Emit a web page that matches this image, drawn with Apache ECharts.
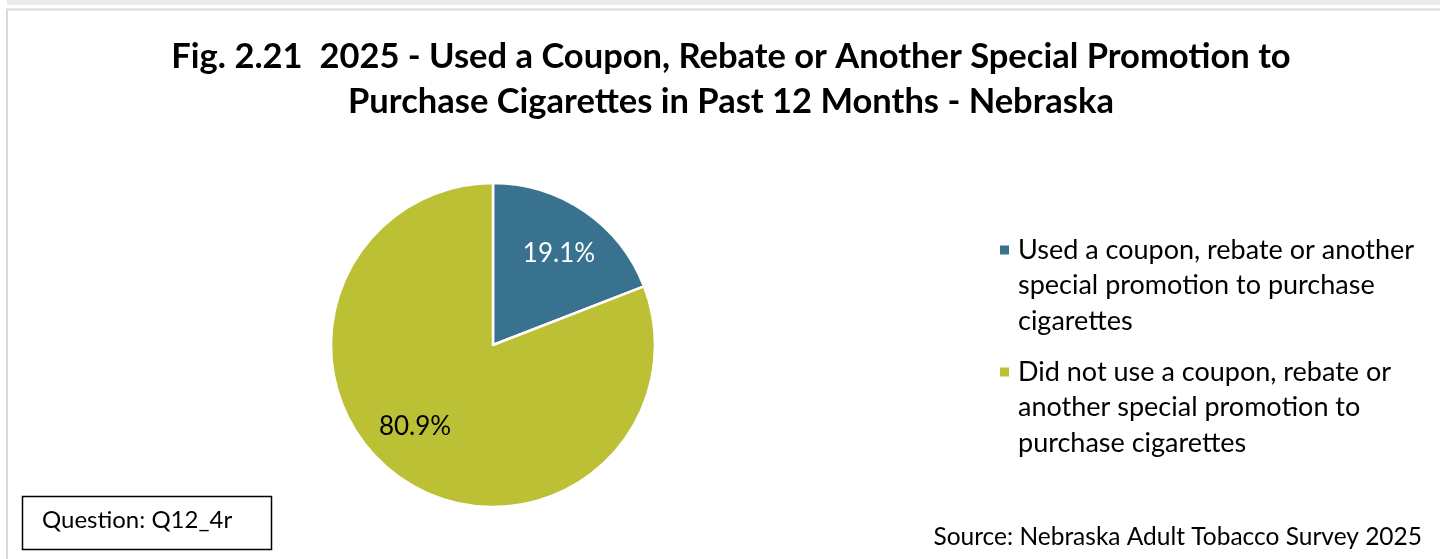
<!DOCTYPE html>
<html>
<head>
<meta charset="utf-8">
<title>Fig. 2.21</title>
<script src="https://cdn.jsdelivr.net/npm/echarts@6/dist/echarts.min.js"></script>
<style>
  html, body { margin: 0; padding: 0; background: #fff; }
  #main { width: 1440px; height: 559px; }
</style>
</head>
<body>
<div id="main"></div>
<script>
// data
const categories = [
  'Used a coupon, rebate or another special promotion to purchase cigarettes',
  'Did not use a coupon, rebate or another special promotion to purchase cigarettes'
];
const values = [19.1, 80.9];
const colors = ['#38728f', '#bcc034'];
const legendLines = [
  ['Used a coupon, rebate or another', 'special promotion to purchase', 'cigarettes'],
  ['Did not use a coupon, rebate or', 'another special promotion to', 'purchase cigarettes']
];

const FONT = 'Lato';
const LEG_LH = 35.5;
const chart = echarts.init(document.getElementById('main'));

const pieData = categories.map(function (name, i) {
  return { name: name, value: values[i], itemStyle: { color: colors[i] } };
});

// label positions (Excel puts them at ~0.7 of the radius)
const labelData = categories.map(function (name, i) {
  return {
    name: name,
    value: values[i],
    label: {
      color: i === 0 ? '#ffffff' : '#000000',
      offset: i === 1 ? [-13, -13] : [1, 4]
    }
  };
});

// icon sits on the middle of the text block, so pad two blank lines on top
// to bring it level with the first line
function legendFor(i, iconMidY) {
  return {
    data: [categories[i]],
    left: 998,
    top: iconMidY - 2.5 * LEG_LH,
    orient: 'vertical',
    icon: 'rect',
    itemWidth: 11,
    itemHeight: 11,
    itemGap: 0,
    padding: 0,
    selectedMode: false,
    formatter: function () { return '\n\n' + legendLines[i].join('\n'); },
    textStyle: {
      fontFamily: FONT,
      fontSize: 27,
      color: '#000',
      lineHeight: LEG_LH,
      padding: [0, 0, 0, 3]
    }
  };
}

chart.setOption({
  backgroundColor: '#fff',
  animation: false,
  title: {
    text: 'Fig. 2.21  2025 - Used a Coupon, Rebate or Another Special Promotion to\nPurchase Cigarettes in Past 12 Months - Nebraska',
    left: 726,
    textAlign: 'center',
    top: 29,
    textStyle: {
      fontFamily: FONT,
      fontWeight: 'bold',
      fontSize: 34.5,
      lineHeight: 45,
      color: '#000'
    }
  },
  color: colors,
  legend: [legendFor(0, 250), legendFor(1, 372)],
  series: [
    {
      type: 'pie',
      center: [493, 345],
      radius: [0, 162],
      startAngle: 90,
      clockwise: true,
      silent: true,
      data: pieData,
      label: { show: false },
      labelLine: { show: false },
      itemStyle: { borderColor: '#fff', borderWidth: 2.5 }
    },
    {
      // transparent ring used only to hold the data labels
      type: 'pie',
      center: [493, 345],
      radius: [62, 162],
      startAngle: 90,
      clockwise: true,
      silent: true,
      legendHoverLink: false,
      data: labelData,
      itemStyle: { color: 'rgba(0,0,0,0)', borderWidth: 0 },
      labelLine: { show: false },
      label: {
        show: true,
        position: 'inside',
        fontFamily: FONT,
        fontSize: 26,
        formatter: function (p) { return p.value.toFixed(1) + '%'; }
      }
    }
  ],
  graphic: [
    { type: 'rect', shape: { x: 7, y: 0, width: 1433, height: 5 }, style: { fill: '#e9edf0' }, silent: true },
    { type: 'polyline', shape: { points: [[7, 559], [7, 9.5], [1440, 9.5]] }, style: { stroke: '#d9d9d9', lineWidth: 2, fill: null }, silent: true },
    { type: 'rect', shape: { x: 22.5, y: 496.5, width: 249, height: 53 }, style: { fill: '#fff', stroke: '#000', lineWidth: 1.5 }, silent: true },
    {
      type: 'text', left: 42, top: 508,
      style: { text: 'Question: Q12_4r', fontFamily: FONT, fontSize: 24, fill: '#000' }
    },
    {
      type: 'text', right: 18, top: 525,
      style: { text: 'Source: Nebraska Adult Tobacco Survey 2025', fontFamily: FONT, fontSize: 24.5, fill: '#000' }
    }
  ]
});
</script>
</body>
</html>
